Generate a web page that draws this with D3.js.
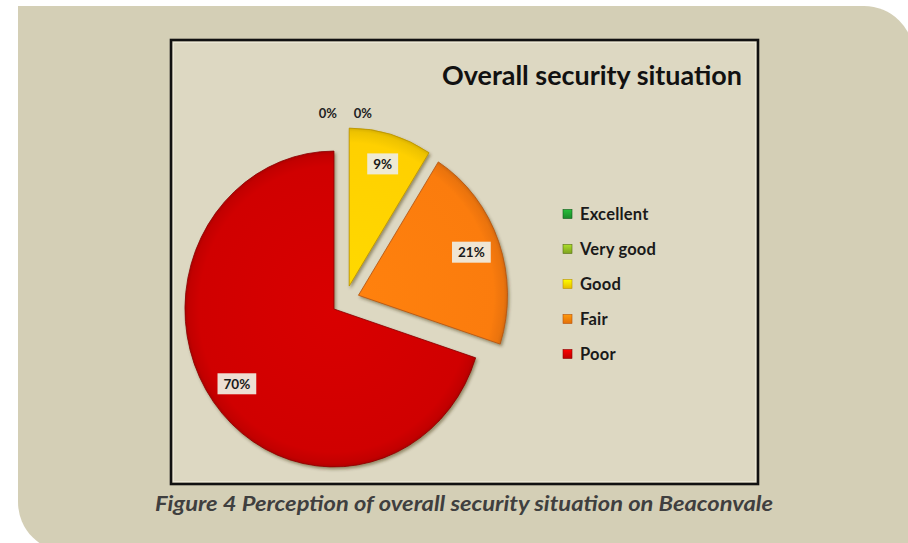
<!DOCTYPE html>
<html>
<head>
<meta charset="utf-8">
<script src="https://cdn.jsdelivr.net/npm/d3@7"></script>
<style>
  html, body { margin: 0; padding: 0; background: #ffffff; }
  svg { display: block; }
</style>
</head>
<body>
<script>
// Survey results: perception of the overall security situation
const categories = ["Excellent", "Very good", "Good", "Fair", "Poor"];
const shares = [0, 0, 9, 21, 70];            // percent of respondents
const sliceColors = ["#1f9a2f", "#8cb422", "#ffd000", "#fb7c0a", "#d00000"];
const sliceEdges  = ["#0e5a18", "#566f12", "#b89200", "#b5520a", "#8a0000"];
const title = "Overall security situation";
const caption = "Figure 4 Perception of overall security situation on Beaconvale";

const W = 908, H = 543;
const svg = d3.select("body").append("svg").attr("width", W).attr("height", H);
const defs = svg.append("defs");

// soft shadow under the slices
const shadow = defs.append("filter").attr("id", "shadow")
  .attr("x", "-20%").attr("y", "-20%").attr("width", "140%").attr("height", "140%");
shadow.append("feDropShadow").attr("dx", 1.5).attr("dy", 2).attr("stdDeviation", 1.6)
  .attr("flood-color", "#3a2a10").attr("flood-opacity", 0.45);

// gentle bevel-like shading for each slice
sliceColors.forEach((c, i) => {
  const g = defs.append("radialGradient").attr("id", "grad" + i)
    .attr("gradientUnits", "userSpaceOnUse").attr("cx", 0).attr("cy", 0).attr("r", 150);
  const base = d3.color(c);
  g.append("stop").attr("offset", "0%").attr("stop-color", base.brighter(0.12));
  g.append("stop").attr("offset", "90%").attr("stop-color", c);
  g.append("stop").attr("offset", "97%").attr("stop-color", base.darker(0.2));
  g.append("stop").attr("offset", "100%").attr("stop-color", base.darker(0.55));
  const lg = defs.append("linearGradient").attr("id", "key" + i)
    .attr("x1", 0).attr("y1", 0).attr("x2", 0).attr("y2", 1);
  lg.append("stop").attr("offset", "0%").attr("stop-color", base.brighter(0.6));
  lg.append("stop").attr("offset", "100%").attr("stop-color", base.darker(0.3));
});

// page panel with two rounded corners
const px0 = 18, py0 = 6, px1 = 914, py1 = 552, pr = 50;
svg.append("path")
  .attr("d", `M${px0},${py0} H${px1 - pr} A${pr},${pr} 0 0 1 ${px1},${py0 + pr} V${py1} H${px0 + pr} A${pr},${pr} 0 0 1 ${px0},${py1 - pr} Z`)
  .attr("fill", "#d4cfb6");

// chart frame
const frame = { x: 171, y: 40, w: 587, h: 444 };
svg.append("rect").attr("x", frame.x).attr("y", frame.y).attr("width", frame.w).attr("height", frame.h)
  .attr("fill", "#ddd8c2").attr("stroke", "#111").attr("stroke-width", 2.6);
svg.append("rect").attr("x", frame.x + 2.5).attr("y", frame.y + 2.5).attr("width", frame.w - 5).attr("height", frame.h - 5)
  .attr("fill", "none").attr("stroke", "#ebe7d6").attr("stroke-width", 1);

// title
svg.append("text").attr("x", 442).attr("y", 85)
  .attr("font-family", "Lato, 'Open Sans', sans-serif").attr("font-weight", 700).attr("font-size", 26)
  .attr("fill", "#111").attr("textLength", 300).attr("lengthAdjust", "spacingAndGlyphs")
  .text(title);

// pie
const cx = 345.3, cy = 300.3, R = 149, yStretch = 1.06, explode = 14, labelR = 120;
const pie = d3.pie().sort(null).value(d => d).startAngle(0).endAngle(2 * Math.PI);
const arcs = pie(shares).map((a, i) => ({ ...a, i, name: categories[i] }));
const arc = d3.arc().innerRadius(0).outerRadius(R);

const pieG = svg.append("g").attr("transform", `translate(${cx},${cy}) scale(1,${yStretch})`);
const mid = a => (a.startAngle + a.endAngle) / 2;

pieG.selectAll("g.slice").data(arcs.filter(a => a.value > 0)).join("g")
  .attr("class", "slice")
  .attr("transform", a => `translate(${Math.sin(mid(a)) * explode},${-Math.cos(mid(a)) * explode})`)
  .append("path")
  .attr("d", arc)
  .attr("fill", a => `url(#grad${a.i})`)
  .attr("stroke", a => sliceEdges[a.i]).attr("stroke-width", 0.8)
  .attr("stroke-linejoin", "round")
  .attr("filter", "url(#shadow)");

// value labels
const labelFont = "Lato, 'Open Sans', sans-serif";
const toScreen = (x, y) => [cx + x, cy + y * yStretch];

arcs.forEach(a => {
  const m = mid(a);
  const ox = Math.sin(m) * explode, oy = -Math.cos(m) * explode;
  if (a.value > 0) {
    const [lx, ly] = toScreen(ox + Math.sin(m) * labelR, oy - Math.cos(m) * labelR);
    const g = svg.append("g");
    const t = g.append("text").attr("x", lx).attr("y", ly + 4.8)
      .attr("text-anchor", "middle").attr("font-family", labelFont)
      .attr("font-weight", 700).attr("font-size", 13.5).attr("fill", "#1a1a1a")
      .text(a.value + "%");
    const bb = t.node().getBBox();
    g.insert("rect", "text")
      .attr("x", bb.x - 6).attr("y", ly - 10.5).attr("width", bb.width + 12).attr("height", 21)
      .attr("fill", "#eeebde").attr("opacity", 0.95);
  } else {
    // zero shares sit at the top of the pie, nudged apart
    const zeroIdx = arcs.filter(b => b.value === 0).indexOf(a);
    const [lx, ly] = toScreen(ox, oy - R);
    svg.append("text").attr("x", lx + (zeroIdx - 0.5) * 35).attr("y", ly - 10)
      .attr("text-anchor", "middle").attr("font-family", labelFont)
      .attr("font-weight", 700).attr("font-size", 13).attr("fill", "#222")
      .text(a.value + "%");
  }
});

// legend
const legendY = d3.scalePoint().domain(categories).range([214, 354]);
const legend = svg.append("g").selectAll("g").data(categories).join("g")
  .attr("transform", d => `translate(563,${legendY(d)})`);
legend.append("rect").attr("x", 0).attr("y", -4.5).attr("width", 9).attr("height", 9)
  .attr("fill", (d, i) => `url(#key${i})`).attr("stroke", (d, i) => sliceEdges[i]).attr("stroke-width", 0.6);
legend.append("text").attr("x", 17).attr("y", 5.8)
  .attr("font-family", labelFont).attr("font-weight", 700).attr("font-size", 16.5)
  .attr("letter-spacing", 0.2).attr("fill", "#1a1a1a")
  .text(d => d);

// figure caption
svg.append("text").attr("x", 155).attr("y", 510.5)
  .attr("font-family", labelFont).attr("font-weight", 700).attr("font-style", "italic").attr("font-size", 20)
  .attr("fill", "#3f3f3f").attr("textLength", 618).attr("lengthAdjust", "spacingAndGlyphs")
  .text(caption);
</script>
</body>
</html>
